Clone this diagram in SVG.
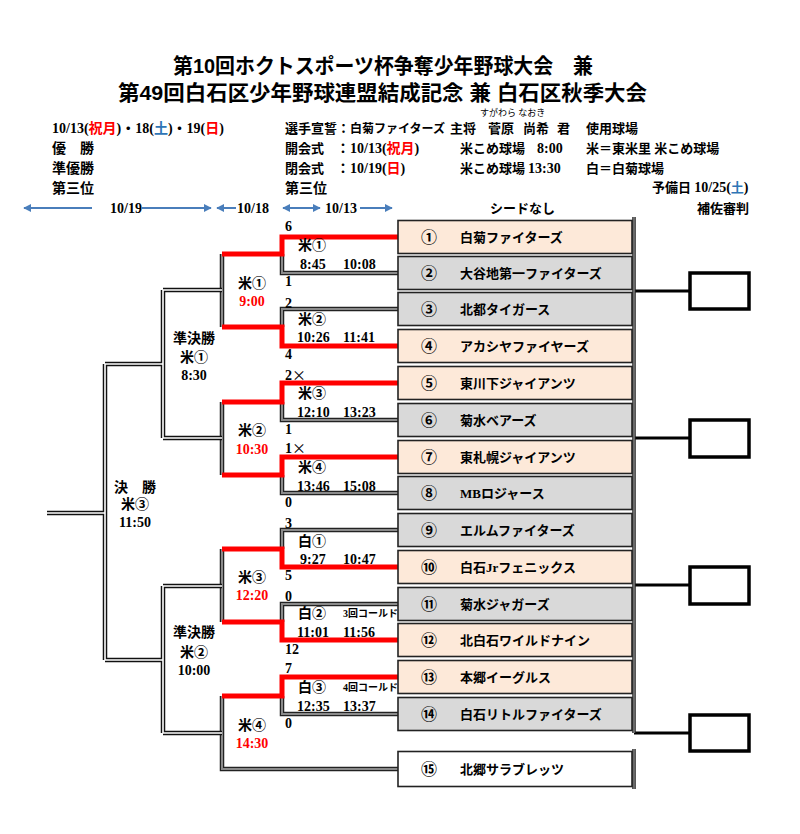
<svg xmlns="http://www.w3.org/2000/svg" width="800" height="834" viewBox="0 0 800 834">
<defs>
<style>
.ttl{font-family:"Liberation Sans","Noto Sans CJK JP",sans-serif;font-weight:bold;font-size:21px;fill:#000}
.t{font-family:"Liberation Serif","Noto Sans CJK JP",serif;font-weight:bold;font-size:13px;fill:#000}
.h{font-size:14px}
.s{font-size:10px}
.f{font-size:9px;font-weight:normal}
.c{font-size:16px}
.x{font-family:"Noto Sans CJK JP",sans-serif;font-weight:normal}
.r{fill:#FF0000}
.b{fill:#2E75B6}
.mid{text-anchor:middle}
.dbo{fill:none;stroke:#111;stroke-width:4.5}
.dbi{fill:none;stroke:#fff;stroke-width:1.6}
.gbo{fill:none;stroke:#222;stroke-width:4.5}
.gbi{fill:none;stroke:#8a8a8a;stroke-width:2}
.red{fill:none;stroke:#FF0000;stroke-width:5;stroke-linejoin:miter}
.pe{fill:#FDE9D9;stroke:#222;stroke-width:1.6}
.gr{fill:#D9D9D9;stroke:#222;stroke-width:1.6}
.wh{fill:#fff;stroke:#222;stroke-width:1.6}
.jb{fill:#fff;stroke:#000;stroke-width:3.5}
.jl{stroke:#000;stroke-width:3}
.arr{stroke:#4A7EBB;stroke-width:2;fill:none}
</style>
<marker id="ah" viewBox="0 0 10 10" refX="9" refY="5" markerWidth="4" markerHeight="4" orient="auto-start-reverse">
<path d="M0,0 L10,5 L0,10 z" fill="#4A7EBB"/>
</marker>
</defs>
<rect width="800" height="834" fill="#fff"/>

<g id="title">
<text class="ttl" x="173" y="73" textLength="420" lengthAdjust="spacingAndGlyphs">第10回ホクトスポーツ杯争奪少年野球大会　兼</text>
<text class="ttl" x="118" y="100" textLength="529" lengthAdjust="spacingAndGlyphs">第49回白石区少年野球連盟結成記念 兼 白石区秋季大会</text>
</g>

<g id="header">
<text class="t h" x="52" y="133">10/13(<tspan class="r">祝月</tspan>)・18(<tspan class="b">土</tspan>)・19(<tspan class="r">日</tspan>)</text>
<text class="t h" x="52" y="153">優　勝</text>
<text class="t h" x="52" y="173">準優勝</text>
<text class="t h" x="52" y="193">第三位</text>
<text class="t f" x="480" y="116">すがわら なおき</text>
<text class="t" x="285" y="133">選手宣誓：</text>
<text class="t" x="350" y="133" style="font-size:12px">白菊ファイターズ</text>
<text class="t" x="450" y="133">主将</text>
<text class="t" x="488" y="133">菅原</text>
<text class="t" x="523" y="133">尚希</text>
<text class="t" x="557" y="133">君</text>
<text class="t" x="586" y="133">使用球場</text>
<text class="t" x="285" y="153">開会式</text>
<text class="t h" x="336" y="153">：10/13(<tspan class="r">祝月</tspan>)</text>
<text class="t" x="460" y="153">米こめ球場</text>
<text class="t h" x="537" y="153">8:00</text>
<text class="t" x="586" y="153">米＝東米里 米こめ球場</text>
<text class="t" x="285" y="173">閉会式</text>
<text class="t h" x="336" y="173">：10/19(<tspan class="r">日</tspan>)</text>
<text class="t" x="460" y="173">米こめ球場</text>
<text class="t h" x="528" y="173">13:30</text>
<text class="t" x="586" y="173">白＝白菊球場</text>
<text class="t h" x="285" y="193">第三位</text>
<text class="t" x="652" y="192">予備日 <tspan class="h">10/25(</tspan><tspan class="b">土</tspan><tspan class="h">)</tspan></text>
<text class="t" x="490" y="213">シードなし</text>
<text class="t" x="697" y="213">補佐審判</text>
</g>

<g id="dates">
<line class="arr" x1="92" y1="208" x2="24" y2="208" marker-end="url(#ah)"/>
<text class="t h" x="110" y="213">10/19</text>
<line class="arr" x1="142" y1="208" x2="211" y2="208" marker-end="url(#ah)"/>
<line class="arr" x1="236" y1="208" x2="217" y2="208" marker-end="url(#ah)"/>
<text class="t h" x="237" y="213">10/18</text>
<line class="arr" x1="283" y1="208" x2="320" y2="208" marker-start="url(#ah)" marker-end="url(#ah)"/>
<text class="t h" x="325" y="213">10/13</text>
<line class="arr" x1="360" y1="208" x2="392" y2="208" marker-end="url(#ah)"/>
</g>

<g id="connectors">
<path class="gbo" d="M282,254 V273 H398 M398,309 H282 V327 M282,402 V420 H398 M282,475 V493 H398 M398,530 H282 V549 M398,604 H282 V622 M282,696 V714 H398 M222,254 V327 M222,402 V475 M222,549 V622 M222,696 V769 H398"/>
<path class="gbi" d="M282,254 V273 H398 M398,309 H282 V327 M282,402 V420 H398 M282,475 V493 H398 M398,530 H282 V549 M398,604 H282 V622 M282,696 V714 H398 M222,254 V327 M222,402 V475 M222,549 V622 M222,696 V769 H398"/>
<path class="dbo" d="M222,290 H163 M222,438 H163 M163,290 V438 M163,364 H105 M222,586 H163 M222,733 H163 M163,586 V733 M163,660 H105 M105,364 V660 M105,513 H47"/>
<path class="dbi" d="M222,290 H163 M222,438 H163 M163,290 V438 M163,364 H105 M222,586 H163 M222,733 H163 M163,586 V733 M163,660 H105 M105,364 V660 M105,513 H47"/>
<path class="red" d="M398,237 H282 V254 H222"/>
<path class="red" d="M222,327 H282 V346 H398"/>
<path class="red" d="M398,383 H282 V402 H222"/>
<path class="red" d="M398,457 H282 V475 H222"/>
<path class="red" d="M222,549 H282 V567 H398"/>
<path class="red" d="M222,622 H282 V640 H398"/>
<path class="red" d="M398,677 H282 V696 H222"/>
<path class="jl" d="M634,291 H690 M634,438 H690 M634,585 H690 M634,733 H690"/>
</g>

<g id="game-labels">
<text class="t h" x="285" y="231">6</text>
<text class="t h" x="298" y="250">米①</text>
<text class="t h" x="300" y="269">8:45</text><text class="t h" x="343" y="269">10:08</text>
<text class="t h" x="285" y="286">1</text>
<text class="t h" x="285" y="308">2</text>
<text class="t h" x="298" y="324">米②</text>
<text class="t h" x="297" y="342">10:26</text><text class="t h" x="343" y="342">11:41</text>
<text class="t h" x="285" y="359">4</text>
<text class="t h" x="285" y="380">2<tspan class="x">×</tspan></text>
<text class="t h" x="298" y="398">米③</text>
<text class="t h" x="297" y="417">12:10</text><text class="t h" x="343" y="417">13:23</text>
<text class="t h" x="285" y="434">1</text>
<text class="t h" x="285" y="453">1<tspan class="x">×</tspan></text>
<text class="t h" x="298" y="472">米④</text>
<text class="t h" x="297" y="491">13:46</text><text class="t h" x="343" y="491">15:08</text>
<text class="t h" x="285" y="507">0</text>
<text class="t h" x="285" y="528">3</text>
<text class="t h" x="298" y="546">白①</text>
<text class="t h" x="300" y="564">9:27</text><text class="t h" x="343" y="564">10:47</text>
<text class="t h" x="285" y="580">5</text>
<text class="t h" x="285" y="601">0</text>
<text class="t h" x="298" y="618">白②</text>
<text class="t s" x="343" y="617">3回コールド</text>
<text class="t h" x="297" y="637">11:01</text><text class="t h" x="343" y="637">11:56</text>
<text class="t h" x="285" y="654">12</text>
<text class="t h" x="285" y="673">7</text>
<text class="t h" x="298" y="692">白③</text>
<text class="t s" x="343" y="691">4回コールド</text>
<text class="t h" x="297" y="711">12:35</text><text class="t h" x="343" y="711">13:37</text>
<text class="t h" x="285" y="728">0</text>

<text class="t h mid" x="252" y="288">米①</text>
<text class="t h mid r" x="252" y="306">9:00</text>
<text class="t h mid" x="252" y="435">米②</text>
<text class="t h mid r" x="252" y="454">10:30</text>
<text class="t h mid" x="252" y="582">米③</text>
<text class="t h mid r" x="252" y="600">12:20</text>
<text class="t h mid" x="252" y="730">米④</text>
<text class="t h mid r" x="252" y="748">14:30</text>

<text class="t h mid" x="194" y="343">準決勝</text>
<text class="t h mid" x="194" y="362">米①</text>
<text class="t h mid" x="194" y="380">8:30</text>
<text class="t h mid" x="194" y="637">準決勝</text>
<text class="t h mid" x="194" y="657">米②</text>
<text class="t h mid" x="194" y="675">10:00</text>

<text class="t h mid" x="135" y="492">決　勝</text>
<text class="t h mid" x="135" y="509">米③</text>
<text class="t h mid" x="135" y="527">11:50</text>
</g>

<g id="team1"><rect class="pe" x="398" y="220.5" width="234" height="33"/><text class="t c mid" x="429" y="243">①</text><text class="t" x="460" y="242">白菊ファイターズ</text></g>
<g id="team2"><rect class="gr" x="398" y="256.5" width="234" height="33"/><text class="t c mid" x="429" y="279">②</text><text class="t" x="460" y="278">大谷地第一ファイターズ</text></g>
<g id="team3"><rect class="gr" x="398" y="292.5" width="234" height="33"/><text class="t c mid" x="429" y="315">③</text><text class="t" x="460" y="314">北都タイガース</text></g>
<g id="team4"><rect class="pe" x="398" y="329.5" width="234" height="33"/><text class="t c mid" x="429" y="352">④</text><text class="t" x="460" y="351">アカシヤファイヤーズ</text></g>
<g id="team5"><rect class="pe" x="398" y="366.5" width="234" height="33"/><text class="t c mid" x="429" y="389">⑤</text><text class="t" x="460" y="388">東川下ジャイアンツ</text></g>
<g id="team6"><rect class="gr" x="398" y="403.5" width="234" height="33"/><text class="t c mid" x="429" y="426">⑥</text><text class="t" x="460" y="425">菊水ベアーズ</text></g>
<g id="team7"><rect class="pe" x="398" y="440.5" width="234" height="33"/><text class="t c mid" x="429" y="463">⑦</text><text class="t" x="460" y="462">東札幌ジャイアンツ</text></g>
<g id="team8"><rect class="gr" x="398" y="476.5" width="234" height="33"/><text class="t c mid" x="429" y="499">⑧</text><text class="t" x="460" y="498">MBロジャース</text></g>
<g id="team9"><rect class="gr" x="398" y="513.5" width="234" height="33"/><text class="t c mid" x="429" y="536">⑨</text><text class="t" x="460" y="535">エルムファイターズ</text></g>
<g id="team10"><rect class="pe" x="398" y="550.5" width="234" height="33"/><text class="t c mid" x="429" y="573">⑩</text><text class="t" x="460" y="572">白石Jrフェニックス</text></g>
<g id="team11"><rect class="gr" x="398" y="587.5" width="234" height="33"/><text class="t c mid" x="429" y="610">⑪</text><text class="t" x="460" y="609">菊水ジャガーズ</text></g>
<g id="team12"><rect class="pe" x="398" y="623.5" width="234" height="33"/><text class="t c mid" x="429" y="646">⑫</text><text class="t" x="460" y="645">北白石ワイルドナイン</text></g>
<g id="team13"><rect class="pe" x="398" y="660.5" width="234" height="33"/><text class="t c mid" x="429" y="683">⑬</text><text class="t" x="460" y="682">本郷イーグルス</text></g>
<g id="team14"><rect class="gr" x="398" y="697.5" width="234" height="33"/><text class="t c mid" x="429" y="720">⑭</text><text class="t" x="460" y="719">白石リトルファイターズ</text></g>
<g id="team15"><rect class="wh" x="398" y="751.5" width="234" height="35"/><text class="t c mid" x="429" y="775">⑮</text><text class="t" x="460" y="774">北郷サラブレッツ</text></g>

<g id="frame">
<path class="gbo" d="M634,217 V733 M634,749 V789" style="stroke-width:3.5"/>
<path d="M634,217 V733 M634,749 V789" stroke="#999" stroke-width="1.2" fill="none"/>
</g>

<g id="judge1"><rect class="jb" x="690" y="273" width="59" height="36"/></g>
<g id="judge2"><rect class="jb" x="690" y="420" width="59" height="37"/></g>
<g id="judge3"><rect class="jb" x="690" y="567" width="59" height="37"/></g>
<g id="judge4"><rect class="jb" x="690" y="715" width="59" height="36"/></g>
</svg>
